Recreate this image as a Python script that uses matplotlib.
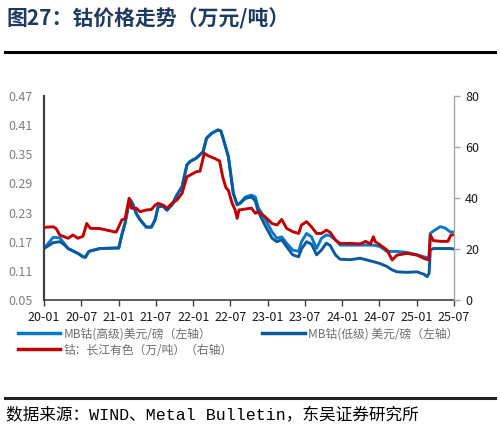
import matplotlib
matplotlib.use("Agg")
import matplotlib.pyplot as plt
import matplotlib.dates as mdates
import pandas as pd

plt.rcParams['font.family'] = ['Noto Sans CJK SC', 'DejaVu Sans']

# ---- data ----
blue_dates = ["2020-01-01","2020-02-15","2020-03-18","2020-04-06","2020-04-28","2020-05-22","2020-06-15",
              "2020-07-10","2020-07-22","2020-08-06","2020-08-15","2020-10-01","2020-12-19","2021-01-01",
              "2021-01-16","2021-02-01","2021-02-21","2021-02-27","2021-03-10","2021-03-28","2021-04-16",
              "2021-05-16","2021-06-10","2021-06-28","2021-07-13","2021-08-07","2021-08-25","2021-09-19",
              "2021-10-13","2021-11-07","2021-12-01","2021-12-16","2022-01-16","2022-02-18","2022-03-07",
              "2022-04-01","2022-05-01","2022-05-16","2022-05-25","2022-06-22","2022-07-16","2022-08-04",
              "2022-08-19","2022-09-13","2022-10-13","2022-11-01","2022-11-15","2022-12-18","2023-01-22",
              "2023-02-15","2023-03-10","2023-04-03","2023-05-03","2023-06-01","2023-06-15","2023-07-10",
              "2023-08-03","2023-08-28","2023-09-21","2023-10-15","2023-11-03","2023-11-28","2023-12-21",
              "2024-02-10","2024-03-28","2024-06-01","2024-07-04","2024-08-07","2024-09-01","2024-09-25",
              "2024-11-13","2025-01-01","2025-02-04","2025-02-19","2025-03-01","2025-03-07","2025-03-22",
              "2025-04-25","2025-05-19","2025-06-13","2025-07-01"]
mb_low = [0.156,0.168,0.170,0.165,0.156,0.151,0.146,
          0.139,0.138,0.149,0.151,0.156,0.157,0.157,
          0.184,0.208,0.252,0.256,0.248,0.228,0.215,
          0.200,0.200,0.215,0.242,0.243,0.235,0.246,
          0.266,0.283,0.328,0.335,0.342,0.355,0.383,
          0.393,0.400,0.398,0.386,0.345,0.270,0.246,
          0.249,0.259,0.262,0.254,0.232,0.204,0.177,
          0.170,0.174,0.160,0.143,0.139,0.155,0.170,
          0.165,0.143,0.153,0.167,0.162,0.143,0.134,
          0.133,0.136,0.129,0.125,0.119,0.112,0.108,
          0.107,0.108,0.103,0.098,0.105,0.153,0.156,
          0.156,0.156,0.156,0.155]
mb_high = [0.156,0.179,0.178,0.168,0.156,0.151,0.146,
           0.139,0.138,0.149,0.151,0.156,0.157,0.157,
           0.184,0.208,0.252,0.256,0.248,0.228,0.215,
           0.200,0.200,0.215,0.242,0.243,0.235,0.246,
           0.266,0.283,0.328,0.335,0.342,0.355,0.383,
           0.393,0.400,0.398,0.386,0.345,0.270,0.246,
           0.250,0.262,0.266,0.262,0.240,0.218,0.190,
           0.177,0.180,0.167,0.153,0.150,0.170,0.187,
           0.180,0.156,0.177,0.184,0.182,0.174,0.163,
           0.163,0.163,0.163,0.160,0.150,0.150,0.150,
           0.148,0.143,0.139,0.137,0.138,0.187,0.192,
           0.201,0.198,0.190,0.190]

red_dates = ["2020-01-01","2020-02-15","2020-03-01","2020-03-18","2020-04-28","2020-05-22","2020-06-15",
             "2020-07-10","2020-07-28","2020-08-15","2020-10-01","2020-12-07","2020-12-19","2021-01-01",
             "2021-01-16","2021-02-01","2021-02-21","2021-03-04","2021-03-28","2021-04-16","2021-05-16",
             "2021-06-10","2021-06-28","2021-07-13","2021-08-07","2021-08-25","2021-09-19","2021-10-13",
             "2021-11-07","2021-12-01","2022-01-16","2022-02-03","2022-02-24","2022-03-16","2022-04-16",
             "2022-05-10","2022-05-25","2022-06-10","2022-06-22","2022-07-10","2022-07-25","2022-08-04",
             "2022-08-13","2022-10-13","2022-11-01","2022-11-15","2022-12-18","2023-01-22","2023-02-15",
             "2023-03-10","2023-04-03","2023-05-03","2023-06-01","2023-06-15","2023-07-10","2023-08-03",
             "2023-08-28","2023-09-21","2023-10-15","2023-11-03","2023-11-28","2023-12-21","2024-02-10",
             "2024-03-28","2024-04-25","2024-05-18","2024-06-01","2024-06-10","2024-07-04","2024-08-07",
             "2024-09-01","2024-09-25","2024-11-13","2025-01-01","2025-02-04","2025-02-28","2025-03-07",
             "2025-03-22","2025-04-25","2025-06-01","2025-06-16","2025-07-01"]
cj_cobalt = [28.5,28.7,28.0,25.5,24.2,25.5,24.2,
             25.0,30.0,28.1,28.0,26.8,26.6,28.7,
             31.4,31.8,39.9,36.0,36.0,34.6,35.3,
             35.5,37.2,37.9,37.2,36.0,37.9,39.2,
             41.8,48.3,50.3,50.5,57.5,56.5,55.5,
             54.5,48.3,44.0,43.0,38.0,35.3,32.0,
             35.3,36.0,34.0,34.6,32.7,30.0,29.4,
             31.6,28.1,26.8,26.1,29.4,30.7,28.7,
             26.1,26.1,27.4,26.5,23.5,22.2,22.2,
             22.0,23.0,22.0,24.8,22.9,21.6,19.6,
             15.7,17.6,18.3,17.6,16.3,15.7,25.5,
             23.3,23.0,23.0,25.5,25.5]

left_ticks = [0.05, 0.11, 0.17, 0.23, 0.29, 0.35, 0.41, 0.47]
right_ticks = [0, 20, 40, 60, 80]
label_high = "MB钴(高级)美元/磅（左轴）"
label_low = "MB钴(低级) 美元/磅（左轴）"
label_red = "钴：长江有色（万/吨）（右轴）"

# ---- figure ----
fig = plt.figure(figsize=(5.0, 4.38), dpi=100)
ax = fig.add_axes([0.088, 0.315, 0.82, 0.466])
ax2 = ax.twinx()

bd = pd.to_datetime(blue_dates)
rd = pd.to_datetime(red_dates)

l1, = ax.plot(bd, mb_high, color='#0A78C8', lw=2.1, label=label_high)
l2, = ax.plot(bd, mb_low, color='#0B5A9E', lw=2.1, label=label_low)
l3, = ax2.plot(rd, cj_cobalt, color='#C00000', lw=2.1, label=label_red)

ax.set_xlim(pd.Timestamp("2020-01-01"), pd.Timestamp("2025-07-01"))
ax.set_ylim(0.05, 0.47)
ax.set_yticks(left_ticks)
ax.set_yticklabels([f"{v:.2f}" for v in left_ticks])
ax2.set_ylim(0, 80)
ax2.set_yticks(right_ticks)

ax.xaxis.set_major_locator(mdates.MonthLocator(bymonth=[1, 7]))
ax.xaxis.set_major_formatter(mdates.DateFormatter('%y-%m'))

for s in ['top']:
    ax.spines[s].set_visible(False)
    ax2.spines[s].set_visible(False)
ax.spines['right'].set_visible(False)
ax2.spines['left'].set_visible(False)
ax2.spines['bottom'].set_visible(False)
ax.spines['left'].set_color('#404040')
ax.spines['left'].set_linewidth(1.6)
ax.spines['bottom'].set_color('#404040')
ax.spines['bottom'].set_linewidth(1.2)
ax2.spines['right'].set_color('#A6A6A6')
ax2.spines['right'].set_linewidth(1.0)

ax.tick_params(axis='y', length=0, pad=8, labelsize=9, labelcolor='#7F7F7F')
ax.tick_params(axis='x', length=4, width=1, color='#404040', direction='out', pad=4,
               labelsize=9, labelcolor='#1a1a1a')
ax2.tick_params(axis='y', length=4, width=1, color='#A6A6A6', direction='out', pad=4,
                labelsize=9, labelcolor='#1a1a1a')

leg = fig.legend([l1, l3, l2], [label_high, label_red, label_low], loc='upper left',
                 bbox_to_anchor=(0.035, 0.252), ncol=2, frameon=False, fontsize=8.5,
                 handlelength=3.6, handletextpad=0.3, columnspacing=2.5,
                 labelspacing=0.25, borderaxespad=0, borderpad=0)
for t in leg.get_texts():
    t.set_color('#6E6E6E')
for h in leg.legend_handles:
    h.set_linewidth(2.5)

# title and rules
fig.text(0.012, 0.958, "图27：钴价格走势（万元/吨）", fontsize=15, fontweight='bold',
         color='#1F3A5F', va='center', ha='left')
fig.add_artist(plt.Line2D([0.01, 0.99], [0.881, 0.881], color='black', lw=2.2))
fig.add_artist(plt.Line2D([0.01, 0.99], [0.092, 0.092], color='#222222', lw=2.2))
fig.text(0.012, 0.052, "数据来源：WIND、Metal Bulletin，东吴证券研究所", fontsize=12,
         family=['Liberation Mono', 'Noto Sans CJK SC'], color='black', va='center', ha='left')

fig.savefig("out.png", dpi=100)
